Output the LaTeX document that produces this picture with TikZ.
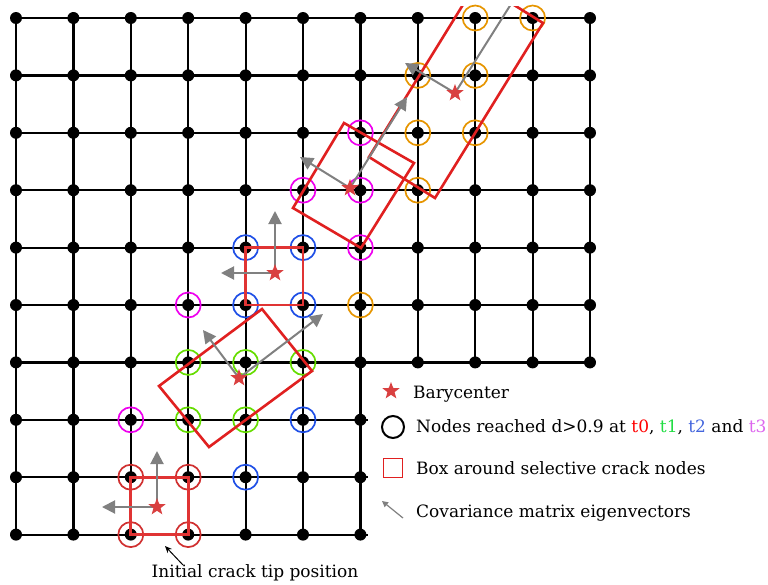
\documentclass[tikz,border=0pt]{standalone}
\usepackage{fontspec}
\setmainfont{DejaVu Serif}
\usetikzlibrary{shapes.geometric,arrows.meta}
\definecolor{cTzero}{HTML}{D03030}
\definecolor{cTone}{HTML}{66DD00}
\definecolor{cTtwo}{HTML}{1F4FE6}
\definecolor{cTthree}{HTML}{EE00EE}
\definecolor{cTfour}{HTML}{E69500}
\definecolor{boxred}{HTML}{E02020}
\definecolor{sqred}{HTML}{E03434}
\definecolor{starred}{HTML}{D94040}
\definecolor{evgrey}{HTML}{808080}
\definecolor{txtone}{HTML}{22DD44}
\definecolor{txttwo}{HTML}{4466DD}
\definecolor{txtthree}{HTML}{DD66EE}
\tikzset{
  gridline/.style={line width=2.2pt, black},
  gdot/.style={circle, fill=black, inner sep=0pt, minimum size=12pt},
  reach/.style={circle, draw=#1, line width=1.7pt, inner sep=0pt, minimum size=25pt},
  cbox/.style={draw=boxred, line width=2.6pt, line join=miter},
  sqbox/.style={draw=sqred, line width=2.8pt, line join=miter},
  evec/.style={draw=evgrey, line width=2pt, -{Triangle[length=13pt,width=13pt]}},
  bary/.style={star, star points=5, star point ratio=2.4, fill=starred, inner sep=0pt, minimum size=18pt},
  lbl/.style={font=\fontsize{17}{20}\selectfont, inner sep=0pt, anchor=base west}
}
\begin{document}
\begin{tikzpicture}[x=1pt,y=-1pt]
\useasboundingbox (0,0) rectangle (768,584);
\foreach \c in {0,...,10} \foreach \r in {0,...,9}
  \coordinate (g-\c-\r) at ({16+57.4*\c},{18+57.4*\r});
\foreach \r in {7,8,9} \coordinate (e-\r) at (368,{18+57.4*\r});
% grid lines
\foreach \r in {0,...,6} \draw[gridline] (g-0-\r) -- (g-10-\r);
\foreach \r in {7,8,9} \draw[gridline] (g-0-\r) -- (e-\r);
\foreach \c in {0,...,6} \draw[gridline] (g-\c-0) -- (g-\c-9);
\foreach \c in {7,...,10} \draw[gridline] (g-\c-0) -- (g-\c-6);
% dots
\foreach \c in {0,...,6} \foreach \r in {0,...,9} \node[gdot] (d-\c-\r) at (g-\c-\r) {};
\foreach \c in {7,...,10} \foreach \r in {0,...,6} \node[gdot] (d-\c-\r) at (g-\c-\r) {};
% reached circles
\foreach \p [count=\i] in {2-8,3-8,2-9,3-9} \node[reach=cTzero] (ra\i) at (g-\p) {};
\foreach \p [count=\i] in {3-6,4-6,5-6,3-7,4-7} \node[reach=cTone] (rb\i) at (g-\p) {};
\foreach \p [count=\i] in {4-4,5-4,4-5,5-5,5-7,4-8} \node[reach=cTtwo] (rc\i) at (g-\p) {};
\foreach \p [count=\i] in {3-5,2-7,6-2,5-3,6-3,6-4} \node[reach=cTthree] (rd\i) at (g-\p) {};
\foreach \p [count=\i] in {6-5,7-1,8-1,7-2,8-2,7-3,8-0,9-0} \node[reach=cTfour] (re\i) at (g-\p) {};
% barycenters (coordinates)
\coordinate (b0) at (157,507);
\coordinate (b1) at (239,378);
\coordinate (b2) at (275,273);
\coordinate (b3) at (350,188);
\coordinate (b4) at (455,93);
\begin{scope}
\clip (0,6) rectangle (768,584);
% boxes
\draw[sqbox] (g-2-8) rectangle (g-3-9);
\draw[sqbox] (g-4-4) rectangle (g-5-5);
\coordinate (k1a) at (262,309); \coordinate (k1b) at (312,371);
\coordinate (k1c) at (209,447); \coordinate (k1d) at (159,386);
\draw[cbox] (k1a) -- (k1b) -- (k1c) -- (k1d) -- cycle;
\coordinate (k2a) at (344,123); \coordinate (k2b) at (414,163);
\coordinate (k2c) at (361,248); \coordinate (k2d) at (293,208);
\draw[cbox] (k2a) -- (k2b) -- (k2c) -- (k2d) -- cycle;
\coordinate (k3a) at (477,-18); \coordinate (k3b) at (543,23);
\coordinate (k3c) at (435,198); \coordinate (k3d) at (369,157);
\draw[cbox] (k3a) -- (k3b) -- (k3c) -- (k3d) -- cycle;
% eigenvectors
\coordinate (v0a) at (157,451); \coordinate (v0b) at (102,507);
\coordinate (v1a) at (203,330); \coordinate (v1b) at (323,314);
\coordinate (v2a) at (275,211); \coordinate (v2b) at (221,273);
\coordinate (v3a) at (300,157); \coordinate (v3b) at (407,97);
\coordinate (v4a) at (405,63); \coordinate (v4b) at (535,-34);
\foreach \k in {0,...,4} {
  \draw[evec] (b\k) -- (v\k a);
  \draw[evec] (b\k) -- (v\k b);
}
% stars
\foreach \k in {0,...,4} \node[bary] (s\k) at (b\k) {};
\end{scope}
% initial crack tip annotation
\node[lbl] (init) at (151.5,577) {Initial crack tip position};
\coordinate (initfrom) at (183,565);
\coordinate (initto) at (165,546);
\draw[line width=1pt, -{Stealth[length=7pt,width=6pt]}] (initfrom) -- (initto);
% legend
\node[bary] (ls) at (391,391) {};
\node[lbl] (lt1) at (413,398) {Barycenter};
\node[circle, draw=black, line width=2pt, inner sep=0pt, minimum size=22pt] (lc) at (393,427) {};
\node[lbl] (lt2) at (416,432) {Nodes reached d>0.9 at \textcolor{red}{t0}, \textcolor{txtone}{t1}, \textcolor{txttwo}{t2} and \textcolor{txtthree}{t3}};
\node[draw=boxred, line width=1.7pt, inner sep=0pt, minimum size=19pt] (lb) at (393,468) {};
\node[lbl] (lt3) at (416,474) {Box around selective crack nodes};
\coordinate (la1) at (403,518); \coordinate (la2) at (382,501);
\draw[draw=evgrey, line width=1.2pt, -{Triangle[length=6pt,width=6pt]}] (la1) -- (la2);
\node[lbl] (lt4) at (416,517) {Covariance matrix eigenvectors};
\end{tikzpicture}
\end{document}
